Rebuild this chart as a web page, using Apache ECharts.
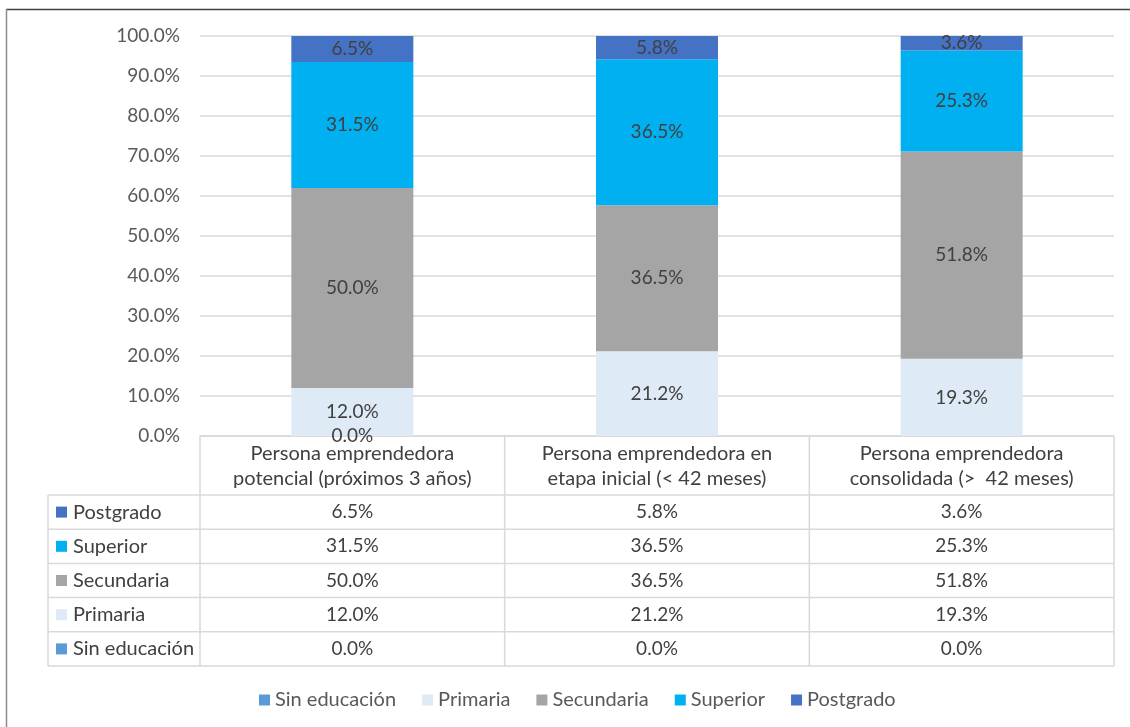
<!DOCTYPE html>
<html>
<head>
<meta charset="utf-8">
<script src="https://cdn.jsdelivr.net/npm/echarts@6/dist/echarts.min.js"></script>
<style>
  html, body { margin: 0; padding: 0; background: #fff; }
  #chart { width: 1130px; height: 727px; }
</style>
</head>
<body>
<div id="chart"></div>
<script>
// categories (header of the data table)
const categories = [
  "Persona emprendedora\npotencial (próximos 3 años)",
  "Persona emprendedora en\netapa inicial (< 42 meses)",
  "Persona emprendedora\nconsolidada (>  42 meses)"
];
// series, bottom to top
const seriesNames = ["Sin educación", "Primaria", "Secundaria", "Superior", "Postgrado"];
const sinEducacion = [0.0, 0.0, 0.0];
const primaria = [12.0, 21.2, 19.3];
const secundaria = [50.0, 36.5, 51.8];
const superior = [31.5, 36.5, 25.3];
const postgrado = [6.5, 5.8, 3.6];
const colors = ["#5b9bd5", "#deebf7", "#a5a5a5", "#00b0f0", "#4472c4"];
const values = [sinEducacion, primaria, secundaria, superior, postgrado];

const FONT = "Lato";
const gridLeft = 200, gridRight = 1114, gridTop = 36, gridBottom = 436;
const headerBottom = 495, rowH = 34.2, tableLeft = 48;
const colW = (gridRight - gridLeft) / categories.length;

const chart = echarts.init(document.getElementById("chart"));

const graphics = [];
// frame of the picture
graphics.push({ type: "line", shape: { x1: 6, y1: 9.5, x2: 1130, y2: 9.5 }, style: { stroke: "#404040", lineWidth: 1.5 } });
graphics.push({ type: "line", shape: { x1: 6.5, y1: 9, x2: 6.5, y2: 727 }, style: { stroke: "#8c8c8c", lineWidth: 1.5 } });

// data table lines
const lineStyle = { stroke: "#d9d9d9", lineWidth: 1.5 };
const tableBottom = headerBottom + rowH * seriesNames.length;
for (let i = 0; i <= categories.length; i++) {
  const x = gridLeft + colW * i;
  graphics.push({ type: "line", shape: { x1: x, y1: gridBottom, x2: x, y2: tableBottom }, style: lineStyle });
}
graphics.push({ type: "line", shape: { x1: tableLeft, y1: headerBottom, x2: tableLeft, y2: tableBottom }, style: lineStyle });
for (let r = 0; r <= seriesNames.length; r++) {
  const y = headerBottom + rowH * r;
  graphics.push({ type: "line", shape: { x1: tableLeft, y1: y, x2: gridRight, y2: y }, style: lineStyle });
}
// table rows: top row is the last series
for (let r = 0; r < seriesNames.length; r++) {
  const s = seriesNames.length - 1 - r;
  const cy = headerBottom + rowH * r + rowH / 2;
  graphics.push({ type: "rect", shape: { x: 56, y: cy - 5.5, width: 11, height: 11 }, style: { fill: colors[s] } });
  graphics.push({ type: "text", x: 73, y: cy, style: { text: seriesNames[s], fill: "#404040", font: "20px " + FONT, textVerticalAlign: "middle", textAlign: "left" } });
  for (let c = 0; c < categories.length; c++) {
    graphics.push({ type: "text", x: gridLeft + colW * c + colW / 2, y: cy, style: { text: values[s][c].toFixed(1) + "%", fill: "#404040", font: "19px " + FONT, textVerticalAlign: "middle", textAlign: "center" } });
  }
}

const series = seriesNames.map((name, i) => ({
  name: name,
  type: "bar",
  stack: "total",
  barWidth: 122,
  data: values[i],
  itemStyle: { color: colors[i] },
  label: {
    show: true,
    position: "inside",
    color: "#404040",
    fontFamily: FONT,
    fontSize: 19,
    formatter: function (p) {
      if (i === 0 && p.dataIndex !== 0) return "";
      return p.value.toFixed(1) + "%";
    }
  },
  emphasis: { disabled: true }
}));

const option = {
  animation: false,
  grid: { left: gridLeft, right: 1130 - gridRight, top: gridTop, bottom: 727 - gridBottom, outerBoundsMode: "none" },
  legend: {
    bottom: 12,
    left: 254,
    icon: "rect",
    itemWidth: 11,
    itemHeight: 11,
    itemGap: 26,
    selectedMode: false,
    textStyle: { color: "#595959", fontFamily: FONT, fontSize: 20 },
    data: seriesNames
  },
  xAxis: {
    type: "category",
    data: categories,
    axisLine: { lineStyle: { color: "#d9d9d9", width: 1.5 } },
    axisTick: { show: false },
    axisLabel: { color: "#404040", fontFamily: FONT, fontSize: 20, lineHeight: 25, margin: 5, interval: 0 }
  },
  yAxis: {
    type: "value",
    min: 0,
    max: 100,
    interval: 10,
    axisLine: { show: false },
    axisTick: { show: false },
    splitLine: { lineStyle: { color: "#d9d9d9", width: 1.5 } },
    axisLabel: { color: "#595959", fontFamily: FONT, fontSize: 19, margin: 20, formatter: v => v.toFixed(1) + "%" }
  },
  graphic: graphics,
  series: series
};

chart.setOption(option);
</script>
</body>
</html>
